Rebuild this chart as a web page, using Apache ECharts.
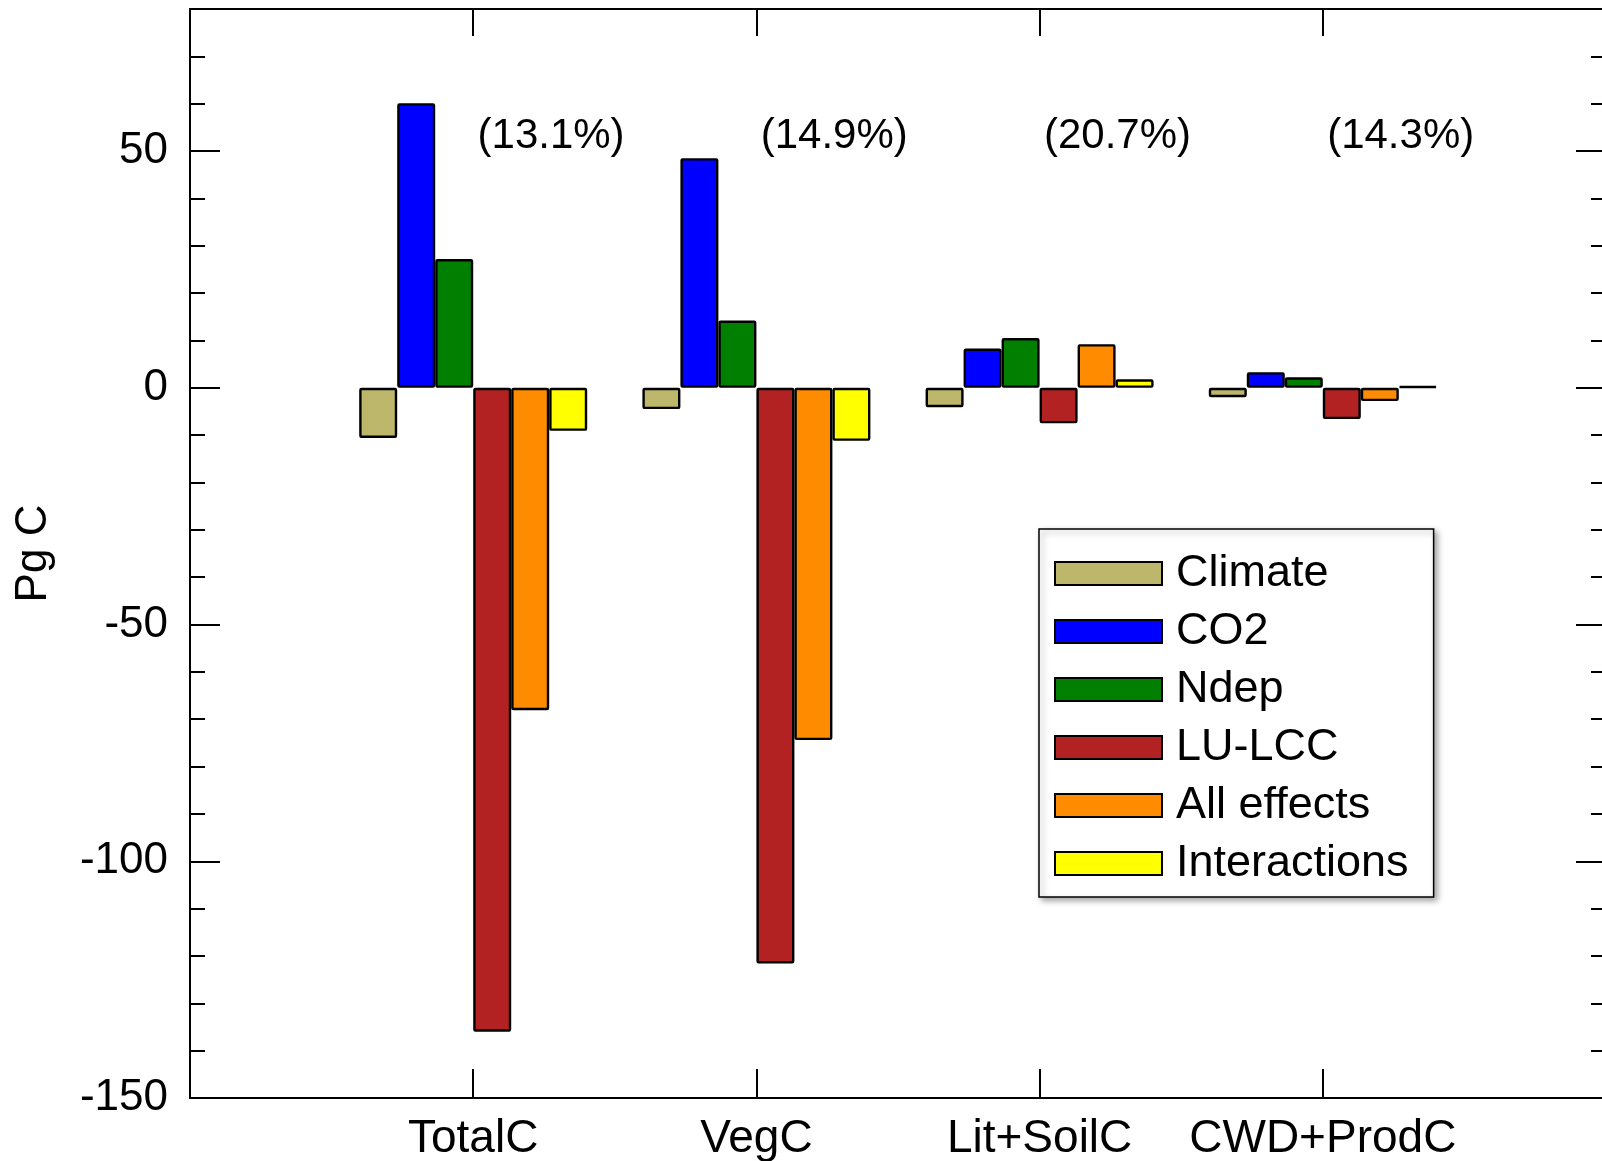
<!DOCTYPE html>
<html><head><meta charset="utf-8">
<script src="https://cdn.jsdelivr.net/npm/echarts@6/dist/echarts.min.js"></script>
<style>html,body{margin:0;padding:0;background:#fff}#c{width:1602px;height:1161px}</style>
</head><body><div id="c"></div>
<script>
const categories = ['TotalC', 'VegC', 'Lit+SoilC', 'CWD+ProdC'];
const seriesNames = ['Climate', 'CO2', 'Ndep', 'LU-LCC', 'All effects', 'Interactions'];
const climate = [-10.6, -4.5, -4.1, -2.0];
const co2 = [60.1, 48.5, 8.3, 3.3];
const ndep = [27.2, 14.2, 10.5, 2.2];
const lulcc = [-136.0, -121.6, -7.5, -6.6];
const allEffects = [-68.1, -74.4, 9.2, -2.8];
const interactions = [-9.1, -11.2, 1.8, 0.3];
const percentLabels = ['(13.1%)', '(14.9%)', '(20.7%)', '(14.3%)'];
const percentY = 53;
const yMajorTicks = [-150, -100, -50, 0, 50];

const colors = ['#BDB76B', '#0000FF', '#007F00', '#B22222', '#FF8C00', '#FFFF00'];
const FONT = '"Liberation Sans", Arial, Helvetica, sans-serif';
const allValues = [climate, co2, ndep, lulcc, allEffects, interactions];
const paddedCats = [''].concat(categories, ['']);
const pad = arr => [null].concat(arr, [null]);

const chart = echarts.init(document.getElementById('c'), null, {renderer: 'canvas'});
const lineStyle = {color: '#000', width: 2};

const series = seriesNames.map((n, i) => ({
  name: n, type: 'bar', xAxisIndex: 0, yAxisIndex: 0,
  data: pad(allValues[i]), barWidth: 38, barGap: '0%',
  itemStyle: {color: colors[i], borderColor: '#000', borderWidth: 2.4, borderRadius: 1}
}));
series.push({
  type: 'scatter', xAxisIndex: 2, yAxisIndex: 0, symbolSize: 1,
  itemStyle: {color: 'transparent', opacity: 1}, silent: true,
  emphasis: {disabled: true},
  data: percentLabels.map((t, i) => ({name: t, value: [i + 1 + 0.275, percentY]})),
  label: {show: true, position: 'inside', formatter: '{b}', color: '#000', opacity: 1,
          fontSize: 42, fontFamily: FONT}
});

chart.setOption({
  animation: false,
  backgroundColor: '#fff',
  grid: {left: 190, right: -4, top: 9, bottom: 63, containLabel: false, outerBoundsMode: 'none'},
  legend: {
    data: seriesNames, orient: 'vertical', left: 1039, top: 529,
    padding: [22, 25, 11, 15], itemWidth: 107, itemHeight: 23, itemGap: 13,
    borderColor: '#000', borderWidth: 1.5, backgroundColor: '#fff',
    shadowBlur: 6, shadowColor: 'rgba(0,0,0,0.35)', shadowOffsetX: 3, shadowOffsetY: 3,
    icon: 'rect', selectedMode: false,
    textStyle: {fontSize: 45, fontFamily: FONT, color: '#000', lineHeight: 44, padding: [0, 0, 0, 9]}
  },
  xAxis: [
    {type: 'category', data: paddedCats, boundaryGap: false, position: 'bottom',
     axisLine: {onZero: false, lineStyle}, axisTick: {inside: true, length: 29, interval: 0, lineStyle},
     axisLabel: {interval: 0, fontSize: 46, fontFamily: FONT, color: '#000', margin: 18},
     splitLine: {show: false}},
    {type: 'category', data: paddedCats, boundaryGap: false, position: 'top',
     axisLine: {onZero: false, lineStyle}, axisTick: {inside: true, length: 27, interval: 0, lineStyle},
     axisLabel: {show: false}, splitLine: {show: false}},
    {type: 'value', min: 0, max: 5, show: false}
  ],
  yAxis: [
    {type: 'value', min: -150, max: 80, interval: 50, position: 'left',
     name: 'Pg C', nameLocation: 'middle', nameGap: 134, nameRotate: 90,
     nameTextStyle: {fontSize: 44, fontFamily: FONT, color: '#000'},
     axisLine: {show: true, onZero: false, lineStyle}, axisTick: {show: true, inside: true, length: 30, lineStyle},
     axisLabel: {fontSize: 44, fontFamily: FONT, color: '#000', margin: 22,
       formatter: v => (yMajorTicks.indexOf(v) >= 0 ? String(v) : '')},
     splitLine: {show: false}},
    {type: 'value', min: -150, max: 80, interval: 10, position: 'left',
     axisLine: {show: false, onZero: false}, axisTick: {show: true, inside: true, length: 15, lineStyle},
     axisLabel: {show: false}, splitLine: {show: false}},
    {type: 'value', min: -150, max: 80, interval: 50, position: 'right',
     axisLine: {show: true, onZero: false, lineStyle}, axisTick: {show: true, inside: true, length: 30, lineStyle},
     axisLabel: {show: false}, splitLine: {show: false}},
    {type: 'value', min: -150, max: 80, interval: 10, position: 'right',
     axisLine: {show: false, onZero: false}, axisTick: {show: true, inside: true, length: 15, lineStyle},
     axisLabel: {show: false}, splitLine: {show: false}}
  ],
  series: series
});
</script></body></html>
